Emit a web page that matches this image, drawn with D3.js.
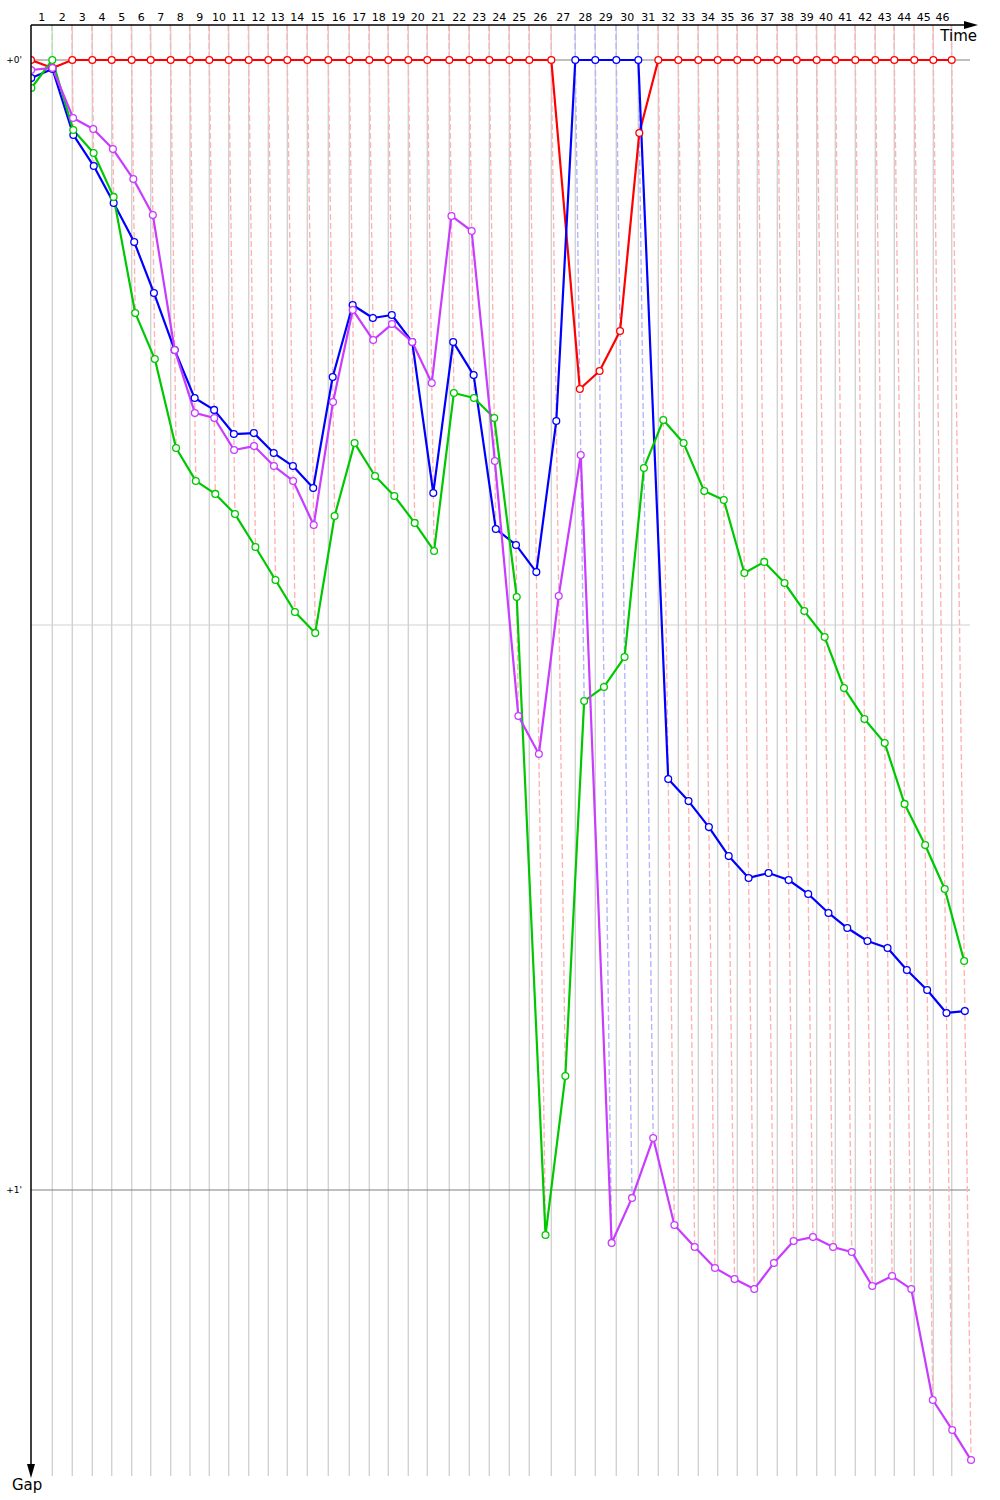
<!DOCTYPE html>
<html lang="en">
  <head>
    <meta charset="UTF-8" />
    <title>Gap chart</title>
    <script src="https://d3js.org/d3.v7.min.js"></script>
    <style>
      body { margin: 0; background: #fff; }
      text { font-family: "DejaVu Sans", sans-serif; }
      .series { fill: none; stroke-width: 2.2px; stroke-linejoin: round; }
    </style>
  </head>
  <body>
    <div id="chart"></div>
    <script>
      // leader's cumulative race time (s) at the end of each lap, lap 0 = start
      var leaderTime = [0, 81.9, 158.8, 235.8, 310.4, 387.3, 460.4, 537.3, 611.5, 685.8,
        760.4, 837.3, 912.7, 985.8, 1062.7, 1143.5, 1224.2, 1301.2, 1374.2, 1451.2,
        1524.2, 1608.8, 1685.8, 1762.7, 1839.6, 1916.5, 2001.2, 2093.5, 2170.4, 2251.2,
        2335.8, 2412.7, 2489.6, 2566.5, 2641.2, 2716.5, 2793.5, 2870.4, 2945.0, 3021.9,
        3093.5, 3170.4, 3247.3, 3320.4, 3397.3, 3470.4, 3541.2];

      // gap to the leader (s) per lap, lap 0..46
      var redGap = [0, 0.42, 0, 0, 0, 0, 0, 0, 0, 0,
        0, 0, 0, 0, 0, 0, 0, 0, 0, 0,
        0, 0, 0, 0, 0, 0, 0, 17.47, 16.51, 14.39,
        3.88, 0, 0, 0, 0, 0, 0, 0, 0, 0,
        0, 0, 0, 0, 0, 0, 0];
      var blueGap = [0.96, 0.48, 3.98, 5.63, 7.59, 9.66, 12.37, 15.40, 17.95, 18.58,
        19.86, 19.81, 20.87, 21.56, 22.73, 16.83, 13.01, 13.70, 13.54, 14.97,
        22.99, 14.97, 16.73, 24.90, 25.75, 27.19, 19.17, 0, 0, 0,
        0, 38.18, 39.35, 40.73, 42.27, 43.43, 43.17, 43.54, 44.28, 45.29,
        46.09, 46.78, 47.15, 48.32, 49.38, 50.60, 50.50];
      var greenGap = [1.49, 0, 3.72, 4.94, 7.27, 13.43, 15.88, 20.60, 22.35, 23.04,
        24.11, 25.86, 27.61, 29.31, 30.42, 24.21, 20.34, 22.09, 23.15, 24.58,
        26.07, 17.68, 17.95, 19.01, 28.51, 62.39, 53.95, 34.04, 33.29, 31.70,
        21.66, 19.12, 20.34, 22.89, 23.36, 27.24, 26.65, 27.77, 29.26, 30.64,
        33.35, 34.99, 36.27, 39.50, 41.68, 44.02, 47.84];
      var magentaGap = [0.53, 0.42, 3.08, 3.66, 4.73, 6.32, 8.23, 15.40, 18.74, 19.01,
        20.71, 20.50, 21.56, 22.35, 24.69, 18.16, 13.27, 14.87, 14.02, 14.97,
        17.15, 8.28, 9.08, 21.29, 34.83, 36.85, 28.46, 20.97, 62.81, 60.42,
        57.24, 61.86, 63.03, 64.14, 64.73, 65.26, 63.88, 62.71, 62.50, 63.03,
        63.29, 65.10, 64.57, 65.26, 71.15, 72.74, 74.34];

      var seriesGaps = [redGap, blueGap, greenGap, magentaGap];
      var seriesColors = ["#ff0000", "#0000ff", "#00c800", "#c83cff"];
      var lightColors = ["#ffb4b4", "#b4b4ff", "#a8eca8", "#e6b4ff"];

      var yTicks = [0, 30, 60];
      var yTickLabels = { 0: "+0'", 60: "+1'" };

      var width = 1000, height = 1500;
      var plotTop = 25, plotBottom = 1476, plotLeft = 31;

      var svg = d3.select("#chart").append("svg")
        .attr("width", width).attr("height", height);

      // time runs left to right; the same scale gives the slant of the lap lines
      var x = d3.scaleLinear().domain([0, 3600]).range([plotLeft, 967]);
      var y = d3.scaleLinear().domain([0, 60]).range([60, 1190]);

      var laps = d3.range(1, leaderTime.length);

      svg.append("defs").append("clipPath").attr("id", "plot")
        .append("rect").attr("x", plotLeft).attr("y", plotTop)
        .attr("width", width - plotLeft).attr("height", plotBottom - plotTop);

      var g = svg.append("g").attr("clip-path", "url(#plot)");

      // vertical lines at the leader's lap times
      g.selectAll(".lapLine").data(laps).enter().append("line")
        .attr("x1", (k) => x(leaderTime[k])).attr("x2", (k) => x(leaderTime[k]))
        .attr("y1", plotTop).attr("y2", plotBottom)
        .attr("stroke", "#d2d2d2").attr("stroke-width", 1.4);

      // horizontal gap lines
      g.selectAll(".gapLine").data(yTicks).enter().append("line")
        .attr("x1", plotLeft).attr("x2", 970)
        .attr("y1", (d) => y(d)).attr("y2", (d) => y(d))
        .attr("stroke", (d) => (d % 60 === 0 ? "#808080" : "#d2d2d2"))
        .attr("stroke-width", 1.2);

      // slanted lines of equal time per lap, coloured by the lap leader
      function leaderOf(k) {
        var best = 0;
        seriesGaps.forEach((s, i) => { if (s[k] < seriesGaps[best][k]) best = i; });
        return best;
      }
      var gTop = y.invert(plotTop);
      g.selectAll(".isoLine").data(laps).enter().append("line")
        .attr("x1", (k) => x(leaderTime[k] + gTop))
        .attr("y1", plotTop)
        .attr("x2", (k) => x(leaderTime[k] + d3.max(seriesGaps, (s) => s[k])))
        .attr("y2", (k) => y(d3.max(seriesGaps, (s) => s[k])))
        .attr("stroke", (k) => lightColors[leaderOf(k)])
        .attr("stroke-width", 1.4)
        .attr("stroke-dasharray", "6,3");

      var line = d3.line()
        .x((d, k) => x(leaderTime[k] + d))
        .y((d) => y(d));

      seriesGaps.forEach((s, i) => {
        g.append("path").datum(s).attr("class", "series")
          .attr("stroke", seriesColors[i]).attr("d", line);
      });
      seriesGaps.forEach((s, i) => {
        g.append("g").selectAll("circle").data(s).enter().append("circle")
          .attr("cx", (d, k) => x(leaderTime[k] + d))
          .attr("cy", (d) => y(d))
          .attr("r", 3.4)
          .attr("fill", "#fff")
          .attr("stroke", seriesColors[i])
          .attr("stroke-width", 1.3);
      });

      // axes with arrows
      svg.append("line").attr("x1", plotLeft).attr("x2", 966)
        .attr("y1", plotTop).attr("y2", plotTop).attr("stroke", "#000").attr("stroke-width", 1.5);
      svg.append("path")
        .attr("d", "M978," + plotTop + " L964," + (plotTop - 4) + " L964," + (plotTop + 4) + " Z")
        .attr("fill", "#000");
      svg.append("line").attr("x1", plotLeft).attr("x2", plotLeft)
        .attr("y1", plotTop).attr("y2", 1466).attr("stroke", "#000").attr("stroke-width", 1.5);
      svg.append("path")
        .attr("d", "M" + plotLeft + ",1478 L" + (plotLeft - 4) + ",1464 L" + (plotLeft + 4) + ",1464 Z")
        .attr("fill", "#000");

      // lap numbers between lap lines
      svg.selectAll(".lapLabel").data(laps).enter().append("text")
        .attr("x", (k) => (x(leaderTime[k - 1]) + x(leaderTime[k])) / 2)
        .attr("y", 21)
        .attr("text-anchor", "middle")
        .attr("font-size", "11px")
        .text((k) => k);

      svg.selectAll(".yLabel").data([0, 60]).enter().append("text")
        .attr("x", 22).attr("y", (d) => y(d) + 3)
        .attr("text-anchor", "end")
        .attr("font-size", "9px")
        .text((d) => yTickLabels[d]);

      svg.append("text").attr("x", 977).attr("y", 41).attr("text-anchor", "end")
        .attr("font-size", "15px").text("Time");
      svg.append("text").attr("x", 12).attr("y", 1490)
        .attr("font-size", "15px").text("Gap");
    </script>
  </body>
</html>
